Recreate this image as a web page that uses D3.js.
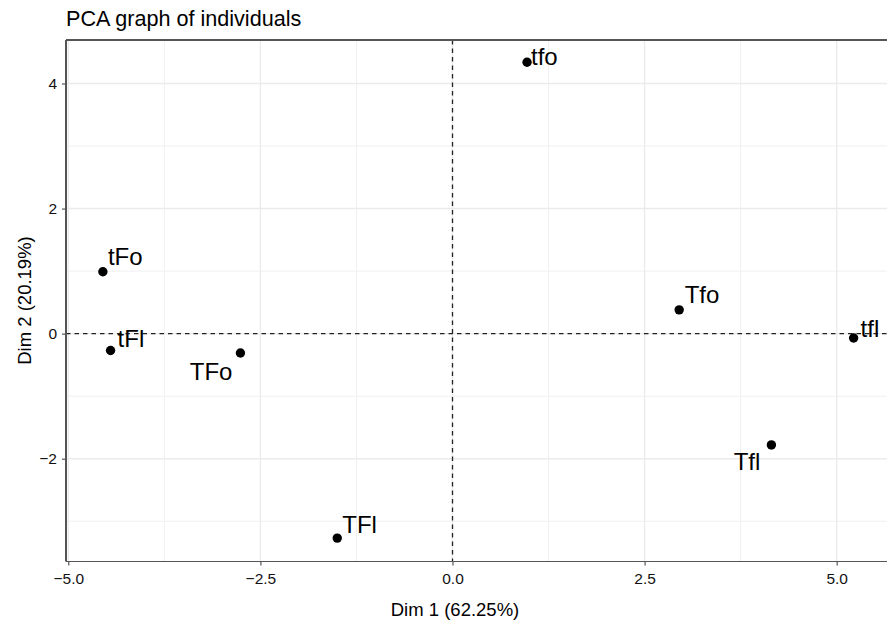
<!DOCTYPE html>
<html>
<head>
<meta charset="utf-8">
<script src="https://cdn.jsdelivr.net/npm/d3@7"></script>
<style>
  html, body { margin: 0; padding: 0; background: #fff; }
  svg { display: block; font-family: "Liberation Sans", Arial, Helvetica, sans-serif; }
</style>
</head>
<body>
<svg id="chart" width="887" height="623"></svg>
<script>
// ---- data ----
const names = ["tFo", "tFl", "TFo", "Tfo", "tfl", "Tfl", "TFl", "tfo"];
const dim1 = [-4.55, -4.45, -2.76, 2.95, 5.22, 4.15, -1.50, 0.97];
const dim2 = [0.99, -0.27, -0.31, 0.38, -0.07, -1.78, -3.27, 4.34];
const xTicks = [-5.0, -2.5, 0.0, 2.5, 5.0];
const yTicks = [-2, 0, 2, 4];
const xMinor = [-3.75, -1.25, 1.25, 3.75];
const yMinor = [-3, -1, 1, 3];
const titleText = "PCA graph of individuals";
const xTitle = "Dim 1 (62.25%)";
const yTitle = "Dim 2 (20.19%)";

// ---- layout (label placement in pixels, like ggrepel) ----
const labelPlace = {
  tFo: { dx: 5, dy: -6.5, anchor: "start" },
  tFl: { dx: 7, dy: -3.5, anchor: "start" },
  TFo: { dx: -8, dy: 27, anchor: "end" },
  Tfo: { dx: 5.5, dy: -6.5, anchor: "start" },
  tfl: { dx: 7, dy: -1.5, anchor: "start" },
  Tfl: { dx: -11, dy: 25.5, anchor: "end" },
  TFl: { dx: 5, dy: -5.5, anchor: "start" },
  tfo: { dx: 4, dy: 2.5, anchor: "start" }
};

const svg = d3.select("#chart");
const pLeft = 66, pTop = 40, pBottom = 561.5, pRight = 887;

const x = d3.scaleLinear().domain([-5, 5]).range([68.3, 836.7]);
const y = d3.scaleLinear().domain([-2, 4]).range([458.7, 83.5]);

// grid
const g = svg.append("g");
g.selectAll(".vminor").data(xMinor).join("line")
  .attr("x1", d => x(d)).attr("x2", d => x(d)).attr("y1", pTop).attr("y2", pBottom)
  .attr("stroke", "#f0f0f0").attr("stroke-width", 1);
g.selectAll(".hminor").data(yMinor).join("line")
  .attr("y1", d => y(d)).attr("y2", d => y(d)).attr("x1", pLeft).attr("x2", pRight)
  .attr("stroke", "#f0f0f0").attr("stroke-width", 1);
g.selectAll(".vmajor").data(xTicks).join("line")
  .attr("x1", d => x(d)).attr("x2", d => x(d)).attr("y1", pTop).attr("y2", pBottom)
  .attr("stroke", "#ebebeb").attr("stroke-width", 1.4);
g.selectAll(".hmajor").data(yTicks).join("line")
  .attr("y1", d => y(d)).attr("y2", d => y(d)).attr("x1", pLeft).attr("x2", pRight)
  .attr("stroke", "#ebebeb").attr("stroke-width", 1.4);

// dashed zero lines
svg.append("line").attr("x1", x(0)).attr("x2", x(0)).attr("y1", pTop).attr("y2", pBottom)
  .attr("stroke", "#222").attr("stroke-width", 1.3).attr("stroke-dasharray", "4.5,4");
svg.append("line").attr("y1", y(0)).attr("y2", y(0)).attr("x1", pLeft).attr("x2", pRight)
  .attr("stroke", "#222").attr("stroke-width", 1.3).attr("stroke-dasharray", "4.5,4");

// panel border (top + left), axes
svg.append("line").attr("x1", pLeft).attr("x2", pRight).attr("y1", pTop).attr("y2", pTop)
  .attr("stroke", "#555").attr("stroke-width", 2);

const xAxis = d3.axisBottom(x).tickValues(xTicks).tickFormat(d3.format(".1f")).tickSize(4).tickSizeOuter(0);
const xg = svg.append("g").attr("transform", `translate(0,${pBottom})`).call(xAxis);
xg.select(".domain").remove();
xg.append("line").attr("x1", pLeft).attr("x2", pRight).attr("y1", 0).attr("y2", 0)
  .attr("stroke", "#555").attr("stroke-width", 1.2);
xg.selectAll(".tick line").attr("stroke", "#555").attr("stroke-width", 1.2);
xg.selectAll(".tick text").attr("fill", "#111").attr("font-size", 15.5).attr("dy", "1.0em")
  .text(d => d3.format(".1f")(d).replace("-", "\u2212"));

const yAxis = d3.axisLeft(y).tickValues(yTicks).tickSize(4).tickSizeOuter(0);
const yg = svg.append("g").attr("transform", `translate(${pLeft},0)`).call(yAxis);
yg.select(".domain").remove();
yg.append("line").attr("x1", 0).attr("x2", 0).attr("y1", pTop).attr("y2", pBottom)
  .attr("stroke", "#555").attr("stroke-width", 2);
yg.selectAll(".tick line").attr("stroke", "#555").attr("stroke-width", 1.2);
yg.selectAll(".tick text").attr("fill", "#111").attr("font-size", 15.5).attr("x", -9)
  .text(d => String(d).replace("-", "\u2212"));

// titles
svg.append("text").attr("x", 66).attr("y", 26).attr("font-size", 21.6).attr("fill", "#000").text(titleText);
svg.append("text").attr("x", 455).attr("y", 616).attr("text-anchor", "middle")
  .attr("font-size", 18.5).attr("fill", "#000").text(xTitle);
svg.append("text").attr("transform", `translate(31,300.5) rotate(-90)`).attr("text-anchor", "middle")
  .attr("font-size", 18.5).attr("fill", "#000").text(yTitle);

// points
const pts = names.map((n, i) => ({ name: n, x: dim1[i], y: dim2[i] }));
svg.append("g").selectAll("circle").data(pts).join("circle")
  .attr("cx", d => x(d.x)).attr("cy", d => y(d.y)).attr("r", 4.7).attr("fill", "#000");

svg.append("g").selectAll("text").data(pts).join("text")
  .attr("x", d => x(d.x) + labelPlace[d.name].dx)
  .attr("y", d => y(d.y) + labelPlace[d.name].dy)
  .attr("text-anchor", d => labelPlace[d.name].anchor)
  .attr("font-size", 24).attr("fill", "#000")
  .text(d => d.name);
</script>
</body>
</html>
